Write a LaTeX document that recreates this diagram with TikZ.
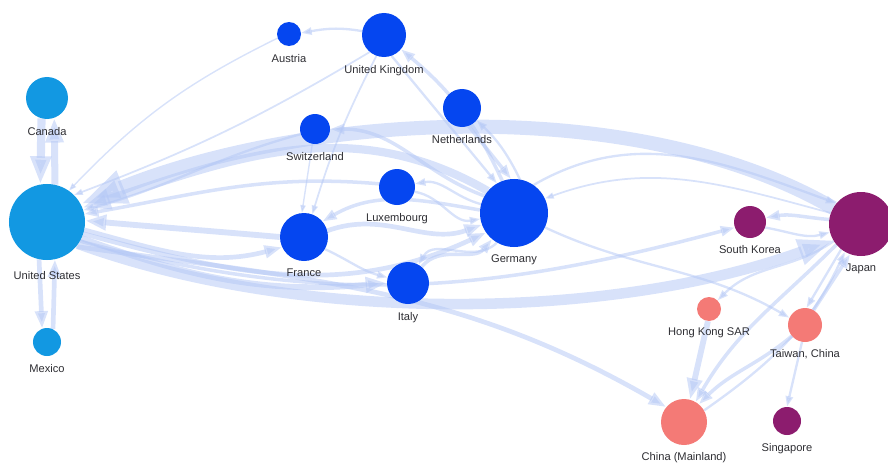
\documentclass[tikz,border=0pt]{standalone}
\usepackage{fontspec}
\setsansfont{Liberation Sans}
\usepackage{tikz}
\usetikzlibrary{positioning, arrows.meta, backgrounds}

\definecolor{amerc}{RGB}{18,152,226}
\definecolor{euroc}{RGB}{5,70,240}
\definecolor{jkc}{RGB}{140,28,110}
\definecolor{cnc}{RGB}{244,122,118}
\definecolor{flowc}{RGB}{178,198,245}
\definecolor{labelc}{RGB}{45,45,50}

\begin{document}
\begin{tikzpicture}[x=0.03cm, y=0.03cm, node distance=2.3mm,
    country/.style={circle, inner sep=0pt, minimum size=#1*0.6mm},
    amer/.style={country=#1, fill=amerc},
    euro/.style={country=#1, fill=euroc},
    jk/.style={country=#1, fill=jkc},
    cn/.style={country=#1, fill=cnc},
    tag/.style={font=\sffamily\fontsize{9.5}{10}\selectfont, text=labelc, inner sep=0pt},
    flow/.style={draw=flowc, opacity=.5, line width=#1,
        -{Triangle[length=3pt 3, width=2pt 2.1]}}]
        \useasboundingbox (0,0) rectangle (888,462);

        % countries
        \node[amer=21] (can) at (47,364) {};
        \node[amer=38] (us) at (47,240) {};
        \node[amer=14] (mex) at (47,120) {};
        \node[euro=12] (aut) at (289,428) {};
        \node[euro=22] (gbr) at (384,427) {};
        \node[euro=19] (nld) at (462,354) {};
        \node[euro=15] (che) at (315,333) {};
        \node[euro=18] (lux) at (397,275) {};
        \node[euro=34] (deu) at (514,249) {};
        \node[euro=24] (fra) at (304,225) {};
        \node[euro=21] (ita) at (408,179) {};
        \node[jk=16] (kor) at (750,240) {};
        \node[jk=32] (jpn) at (861,238) {};
        \node[cn=12] (hkg) at (709,153) {};
        \node[cn=17] (twn) at (805,137) {};
        \node[cn=23] (chn) at (684,40) {};
        \node[jk=14] (sgp) at (787,41) {};

        % labels
        \node[tag, below = of can] (can-l) {Canada};
        \node[tag, below = 3.4mm of us] (us-l) {United States};
        \node[tag, below = of mex] (mex-l) {Mexico};
        \node[tag, below = of aut] (aut-l) {Austria};
        \node[tag, below = of gbr] (gbr-l) {United Kingdom};
        \node[tag, below = of nld] (nld-l) {Netherlands};
        \node[tag, below = of che] (che-l) {Switzerland};
        \node[tag, below = of lux] (lux-l) {Luxembourg};
        \node[tag, below = of deu] (deu-l) {Germany};
        \node[tag, below = of fra] (fra-l) {France};
        \node[tag, below = of ita] (ita-l) {Italy};
        \node[tag, below = 2mm of kor] (kor-l) {South Korea};
        \node[tag, below = of jpn] (jpn-l) {Japan};
        \node[tag, below = 2mm of hkg] (hkg-l) {Hong Kong SAR};
        \node[tag, below = 2mm of twn] (twn-l) {Taiwan, China};
        \node[tag, below = 2mm of chn] (chn-l) {China (Mainland)};
        \node[tag, below = of sgp] (sgp-l) {Singapore};

        \begin{scope}[on background layer]
        % americas
        \draw[flow=7pt] (can.255) -- (us.100);
        \draw[flow=6pt] (us.78) -- (can.290);
        \draw[flow=4pt] (us.258) -- (mex.110);
        \draw[flow=4pt] (mex.65) -- (us.282);

        % into the united states
        \draw[flow=12pt] (jpn.150) to[out=150, in=22, looseness=.8] (us.28);
        \draw[flow=7pt] (deu.140) to[out=150, in=18] (us.22);
        \draw[flow=5pt] (fra.west) to[out=175, in=-5] (us.2);
        \draw[flow=3pt] (lux.170) to[out=175, in=10] (us.12);
        \draw[flow=2pt] (che.200) to[out=195, in=15] (us.18);
        \draw[flow=1.2pt] (aut.200) to[bend right=10] (us.55);
        \draw[flow=1.5pt] (gbr.230) to[bend left=5] (us.45);

        % out of the united states
        \draw[flow=4pt] (us.-12) to[out=-15, in=195] (fra.205);
        \draw[flow=5pt] (us.-25) to[out=-20, in=185] (ita.west);
        \draw[flow=4pt] (us.-18) to[out=-15, in=205] (deu.215);
        \draw[flow=9pt] (us.-35) to[out=-20, in=200, looseness=.8] (jpn.210);
        \draw[flow=3pt] (us.-30) to[out=-15, in=195] (kor.200);
        \draw[flow=4pt] (us.-40) to[out=-8, in=150] (chn.140);

        % europe
        \draw[flow=2pt] (gbr.170) to[out=170, in=10] (aut.5);
        \draw[flow=3pt] (deu.110) to[out=115, in=-40] (gbr.-40);
        \draw[flow=2pt] (gbr.-70) -- (deu.120);
        \draw[flow=1.5pt] (gbr.250) to[bend right=5] (fra.70);
        \draw[flow=3pt] (nld.-70) -- (deu.95);
        \draw[flow=2pt] (deu.80) to[bend right=10] (nld.-40);
        \draw[flow=3pt] (deu.150) to[out=160, in=0] (che.east);
        \draw[flow=2pt] (deu.165) to[out=165, in=10] (lux.10);
        \draw[flow=2pt] (lux.-15) to[out=-10, in=190] (deu.190);
        \draw[flow=4pt] (fra.15) to[out=20, in=200] (deu.200);
        \draw[flow=3pt] (deu.175) to[out=170, in=30] (fra.40);
        \draw[flow=3pt] (ita.50) to[out=50, in=230] (deu.230);
        \draw[flow=2pt] (deu.240) to[out=225, in=60] (ita.60);
        \draw[flow=2pt] (fra.-30) to[out=-25, in=165] (ita.165);
        \draw[flow=1.2pt] (che.260) -- (fra.95);

        % asia
        \draw[flow=1.5pt] (jpn.160) to[out=165, in=20] (deu.25);
        \draw[flow=2pt] (deu.55) to[out=30, in=160] (jpn.140);
        \draw[flow=2pt] (deu.-25) to[out=-25, in=150] (twn.155);
        \draw[flow=3pt] (jpn.172) to[out=175, in=10] (kor.15);
        \draw[flow=2pt] (kor.-20) to[out=-10, in=195] (jpn.195);
        \draw[flow=3pt] (jpn.220) to[out=225, in=60] (chn.60);
        \draw[flow=2pt] (jpn.212) to[out=215, in=45] (hkg.45);
        \draw[flow=2pt] (chn.30) to[out=35, in=245] (jpn.240);
        \draw[flow=3pt] (twn.60) -- (jpn.250);
        \draw[flow=2pt] (jpn.232) -- (twn.85);
        \draw[flow=2pt] (twn.260) -- (sgp.north);
        \draw[flow=5pt] (hkg.265) -- (chn.75);
        \draw[flow=3pt] (twn.220) to[out=220, in=45] (chn.50);
        \end{scope}
    \end{tikzpicture}
\end{document}
